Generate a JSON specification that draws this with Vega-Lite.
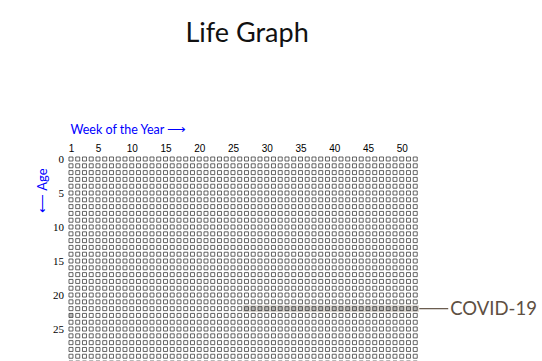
{
"$schema": "https://vega.github.io/schema/vega-lite/v6.json",
"autosize": "none",
"width": 351,
"height": 205.4,
"padding": {"left": 67.6, "top": 155.6, "right": 123.4, "bottom": 0},
"background": "white",
"config": {"view": {"stroke": null}},
"title": {"text": "Life Graph", "font": "Lato", "fontSize": 27, "fontWeight": "normal", "color": "#111111", "anchor": "middle", "dx": 4, "offset": 75},
"datasets": {
"grid": [
{"a":0,"w":1},{"a":0,"w":2},{"a":0,"w":3},{"a":0,"w":4},{"a":0,"w":5},{"a":0,"w":6},{"a":0,"w":7},{"a":0,"w":8},{"a":0,"w":9},{"a":0,"w":10},{"a":0,"w":11},{"a":0,"w":12},{"a":0,"w":13},{"a":0,"w":14},{"a":0,"w":15},{"a":0,"w":16},{"a":0,"w":17},{"a":0,"w":18},{"a":0,"w":19},{"a":0,"w":20},{"a":0,"w":21},{"a":0,"w":22},{"a":0,"w":23},{"a":0,"w":24},{"a":0,"w":25},{"a":0,"w":26},{"a":0,"w":27},{"a":0,"w":28},{"a":0,"w":29},{"a":0,"w":30},{"a":0,"w":31},{"a":0,"w":32},{"a":0,"w":33},{"a":0,"w":34},{"a":0,"w":35},{"a":0,"w":36},{"a":0,"w":37},{"a":0,"w":38},{"a":0,"w":39},{"a":0,"w":40},{"a":0,"w":41},{"a":0,"w":42},{"a":0,"w":43},{"a":0,"w":44},{"a":0,"w":45},{"a":0,"w":46},{"a":0,"w":47},{"a":0,"w":48},{"a":0,"w":49},{"a":0,"w":50},{"a":0,"w":51},{"a":0,"w":52},
{"a":1,"w":1},{"a":1,"w":2},{"a":1,"w":3},{"a":1,"w":4},{"a":1,"w":5},{"a":1,"w":6},{"a":1,"w":7},{"a":1,"w":8},{"a":1,"w":9},{"a":1,"w":10},{"a":1,"w":11},{"a":1,"w":12},{"a":1,"w":13},{"a":1,"w":14},{"a":1,"w":15},{"a":1,"w":16},{"a":1,"w":17},{"a":1,"w":18},{"a":1,"w":19},{"a":1,"w":20},{"a":1,"w":21},{"a":1,"w":22},{"a":1,"w":23},{"a":1,"w":24},{"a":1,"w":25},{"a":1,"w":26},{"a":1,"w":27},{"a":1,"w":28},{"a":1,"w":29},{"a":1,"w":30},{"a":1,"w":31},{"a":1,"w":32},{"a":1,"w":33},{"a":1,"w":34},{"a":1,"w":35},{"a":1,"w":36},{"a":1,"w":37},{"a":1,"w":38},{"a":1,"w":39},{"a":1,"w":40},{"a":1,"w":41},{"a":1,"w":42},{"a":1,"w":43},{"a":1,"w":44},{"a":1,"w":45},{"a":1,"w":46},{"a":1,"w":47},{"a":1,"w":48},{"a":1,"w":49},{"a":1,"w":50},{"a":1,"w":51},{"a":1,"w":52},
{"a":2,"w":1},{"a":2,"w":2},{"a":2,"w":3},{"a":2,"w":4},{"a":2,"w":5},{"a":2,"w":6},{"a":2,"w":7},{"a":2,"w":8},{"a":2,"w":9},{"a":2,"w":10},{"a":2,"w":11},{"a":2,"w":12},{"a":2,"w":13},{"a":2,"w":14},{"a":2,"w":15},{"a":2,"w":16},{"a":2,"w":17},{"a":2,"w":18},{"a":2,"w":19},{"a":2,"w":20},{"a":2,"w":21},{"a":2,"w":22},{"a":2,"w":23},{"a":2,"w":24},{"a":2,"w":25},{"a":2,"w":26},{"a":2,"w":27},{"a":2,"w":28},{"a":2,"w":29},{"a":2,"w":30},{"a":2,"w":31},{"a":2,"w":32},{"a":2,"w":33},{"a":2,"w":34},{"a":2,"w":35},{"a":2,"w":36},{"a":2,"w":37},{"a":2,"w":38},{"a":2,"w":39},{"a":2,"w":40},{"a":2,"w":41},{"a":2,"w":42},{"a":2,"w":43},{"a":2,"w":44},{"a":2,"w":45},{"a":2,"w":46},{"a":2,"w":47},{"a":2,"w":48},{"a":2,"w":49},{"a":2,"w":50},{"a":2,"w":51},{"a":2,"w":52},
{"a":3,"w":1},{"a":3,"w":2},{"a":3,"w":3},{"a":3,"w":4},{"a":3,"w":5},{"a":3,"w":6},{"a":3,"w":7},{"a":3,"w":8},{"a":3,"w":9},{"a":3,"w":10},{"a":3,"w":11},{"a":3,"w":12},{"a":3,"w":13},{"a":3,"w":14},{"a":3,"w":15},{"a":3,"w":16},{"a":3,"w":17},{"a":3,"w":18},{"a":3,"w":19},{"a":3,"w":20},{"a":3,"w":21},{"a":3,"w":22},{"a":3,"w":23},{"a":3,"w":24},{"a":3,"w":25},{"a":3,"w":26},{"a":3,"w":27},{"a":3,"w":28},{"a":3,"w":29},{"a":3,"w":30},{"a":3,"w":31},{"a":3,"w":32},{"a":3,"w":33},{"a":3,"w":34},{"a":3,"w":35},{"a":3,"w":36},{"a":3,"w":37},{"a":3,"w":38},{"a":3,"w":39},{"a":3,"w":40},{"a":3,"w":41},{"a":3,"w":42},{"a":3,"w":43},{"a":3,"w":44},{"a":3,"w":45},{"a":3,"w":46},{"a":3,"w":47},{"a":3,"w":48},{"a":3,"w":49},{"a":3,"w":50},{"a":3,"w":51},{"a":3,"w":52},
{"a":4,"w":1},{"a":4,"w":2},{"a":4,"w":3},{"a":4,"w":4},{"a":4,"w":5},{"a":4,"w":6},{"a":4,"w":7},{"a":4,"w":8},{"a":4,"w":9},{"a":4,"w":10},{"a":4,"w":11},{"a":4,"w":12},{"a":4,"w":13},{"a":4,"w":14},{"a":4,"w":15},{"a":4,"w":16},{"a":4,"w":17},{"a":4,"w":18},{"a":4,"w":19},{"a":4,"w":20},{"a":4,"w":21},{"a":4,"w":22},{"a":4,"w":23},{"a":4,"w":24},{"a":4,"w":25},{"a":4,"w":26},{"a":4,"w":27},{"a":4,"w":28},{"a":4,"w":29},{"a":4,"w":30},{"a":4,"w":31},{"a":4,"w":32},{"a":4,"w":33},{"a":4,"w":34},{"a":4,"w":35},{"a":4,"w":36},{"a":4,"w":37},{"a":4,"w":38},{"a":4,"w":39},{"a":4,"w":40},{"a":4,"w":41},{"a":4,"w":42},{"a":4,"w":43},{"a":4,"w":44},{"a":4,"w":45},{"a":4,"w":46},{"a":4,"w":47},{"a":4,"w":48},{"a":4,"w":49},{"a":4,"w":50},{"a":4,"w":51},{"a":4,"w":52},
{"a":5,"w":1},{"a":5,"w":2},{"a":5,"w":3},{"a":5,"w":4},{"a":5,"w":5},{"a":5,"w":6},{"a":5,"w":7},{"a":5,"w":8},{"a":5,"w":9},{"a":5,"w":10},{"a":5,"w":11},{"a":5,"w":12},{"a":5,"w":13},{"a":5,"w":14},{"a":5,"w":15},{"a":5,"w":16},{"a":5,"w":17},{"a":5,"w":18},{"a":5,"w":19},{"a":5,"w":20},{"a":5,"w":21},{"a":5,"w":22},{"a":5,"w":23},{"a":5,"w":24},{"a":5,"w":25},{"a":5,"w":26},{"a":5,"w":27},{"a":5,"w":28},{"a":5,"w":29},{"a":5,"w":30},{"a":5,"w":31},{"a":5,"w":32},{"a":5,"w":33},{"a":5,"w":34},{"a":5,"w":35},{"a":5,"w":36},{"a":5,"w":37},{"a":5,"w":38},{"a":5,"w":39},{"a":5,"w":40},{"a":5,"w":41},{"a":5,"w":42},{"a":5,"w":43},{"a":5,"w":44},{"a":5,"w":45},{"a":5,"w":46},{"a":5,"w":47},{"a":5,"w":48},{"a":5,"w":49},{"a":5,"w":50},{"a":5,"w":51},{"a":5,"w":52},
{"a":6,"w":1},{"a":6,"w":2},{"a":6,"w":3},{"a":6,"w":4},{"a":6,"w":5},{"a":6,"w":6},{"a":6,"w":7},{"a":6,"w":8},{"a":6,"w":9},{"a":6,"w":10},{"a":6,"w":11},{"a":6,"w":12},{"a":6,"w":13},{"a":6,"w":14},{"a":6,"w":15},{"a":6,"w":16},{"a":6,"w":17},{"a":6,"w":18},{"a":6,"w":19},{"a":6,"w":20},{"a":6,"w":21},{"a":6,"w":22},{"a":6,"w":23},{"a":6,"w":24},{"a":6,"w":25},{"a":6,"w":26},{"a":6,"w":27},{"a":6,"w":28},{"a":6,"w":29},{"a":6,"w":30},{"a":6,"w":31},{"a":6,"w":32},{"a":6,"w":33},{"a":6,"w":34},{"a":6,"w":35},{"a":6,"w":36},{"a":6,"w":37},{"a":6,"w":38},{"a":6,"w":39},{"a":6,"w":40},{"a":6,"w":41},{"a":6,"w":42},{"a":6,"w":43},{"a":6,"w":44},{"a":6,"w":45},{"a":6,"w":46},{"a":6,"w":47},{"a":6,"w":48},{"a":6,"w":49},{"a":6,"w":50},{"a":6,"w":51},{"a":6,"w":52},
{"a":7,"w":1},{"a":7,"w":2},{"a":7,"w":3},{"a":7,"w":4},{"a":7,"w":5},{"a":7,"w":6},{"a":7,"w":7},{"a":7,"w":8},{"a":7,"w":9},{"a":7,"w":10},{"a":7,"w":11},{"a":7,"w":12},{"a":7,"w":13},{"a":7,"w":14},{"a":7,"w":15},{"a":7,"w":16},{"a":7,"w":17},{"a":7,"w":18},{"a":7,"w":19},{"a":7,"w":20},{"a":7,"w":21},{"a":7,"w":22},{"a":7,"w":23},{"a":7,"w":24},{"a":7,"w":25},{"a":7,"w":26},{"a":7,"w":27},{"a":7,"w":28},{"a":7,"w":29},{"a":7,"w":30},{"a":7,"w":31},{"a":7,"w":32},{"a":7,"w":33},{"a":7,"w":34},{"a":7,"w":35},{"a":7,"w":36},{"a":7,"w":37},{"a":7,"w":38},{"a":7,"w":39},{"a":7,"w":40},{"a":7,"w":41},{"a":7,"w":42},{"a":7,"w":43},{"a":7,"w":44},{"a":7,"w":45},{"a":7,"w":46},{"a":7,"w":47},{"a":7,"w":48},{"a":7,"w":49},{"a":7,"w":50},{"a":7,"w":51},{"a":7,"w":52},
{"a":8,"w":1},{"a":8,"w":2},{"a":8,"w":3},{"a":8,"w":4},{"a":8,"w":5},{"a":8,"w":6},{"a":8,"w":7},{"a":8,"w":8},{"a":8,"w":9},{"a":8,"w":10},{"a":8,"w":11},{"a":8,"w":12},{"a":8,"w":13},{"a":8,"w":14},{"a":8,"w":15},{"a":8,"w":16},{"a":8,"w":17},{"a":8,"w":18},{"a":8,"w":19},{"a":8,"w":20},{"a":8,"w":21},{"a":8,"w":22},{"a":8,"w":23},{"a":8,"w":24},{"a":8,"w":25},{"a":8,"w":26},{"a":8,"w":27},{"a":8,"w":28},{"a":8,"w":29},{"a":8,"w":30},{"a":8,"w":31},{"a":8,"w":32},{"a":8,"w":33},{"a":8,"w":34},{"a":8,"w":35},{"a":8,"w":36},{"a":8,"w":37},{"a":8,"w":38},{"a":8,"w":39},{"a":8,"w":40},{"a":8,"w":41},{"a":8,"w":42},{"a":8,"w":43},{"a":8,"w":44},{"a":8,"w":45},{"a":8,"w":46},{"a":8,"w":47},{"a":8,"w":48},{"a":8,"w":49},{"a":8,"w":50},{"a":8,"w":51},{"a":8,"w":52},
{"a":9,"w":1},{"a":9,"w":2},{"a":9,"w":3},{"a":9,"w":4},{"a":9,"w":5},{"a":9,"w":6},{"a":9,"w":7},{"a":9,"w":8},{"a":9,"w":9},{"a":9,"w":10},{"a":9,"w":11},{"a":9,"w":12},{"a":9,"w":13},{"a":9,"w":14},{"a":9,"w":15},{"a":9,"w":16},{"a":9,"w":17},{"a":9,"w":18},{"a":9,"w":19},{"a":9,"w":20},{"a":9,"w":21},{"a":9,"w":22},{"a":9,"w":23},{"a":9,"w":24},{"a":9,"w":25},{"a":9,"w":26},{"a":9,"w":27},{"a":9,"w":28},{"a":9,"w":29},{"a":9,"w":30},{"a":9,"w":31},{"a":9,"w":32},{"a":9,"w":33},{"a":9,"w":34},{"a":9,"w":35},{"a":9,"w":36},{"a":9,"w":37},{"a":9,"w":38},{"a":9,"w":39},{"a":9,"w":40},{"a":9,"w":41},{"a":9,"w":42},{"a":9,"w":43},{"a":9,"w":44},{"a":9,"w":45},{"a":9,"w":46},{"a":9,"w":47},{"a":9,"w":48},{"a":9,"w":49},{"a":9,"w":50},{"a":9,"w":51},{"a":9,"w":52},
{"a":10,"w":1},{"a":10,"w":2},{"a":10,"w":3},{"a":10,"w":4},{"a":10,"w":5},{"a":10,"w":6},{"a":10,"w":7},{"a":10,"w":8},{"a":10,"w":9},{"a":10,"w":10},{"a":10,"w":11},{"a":10,"w":12},{"a":10,"w":13},{"a":10,"w":14},{"a":10,"w":15},{"a":10,"w":16},{"a":10,"w":17},{"a":10,"w":18},{"a":10,"w":19},{"a":10,"w":20},{"a":10,"w":21},{"a":10,"w":22},{"a":10,"w":23},{"a":10,"w":24},{"a":10,"w":25},{"a":10,"w":26},{"a":10,"w":27},{"a":10,"w":28},{"a":10,"w":29},{"a":10,"w":30},{"a":10,"w":31},{"a":10,"w":32},{"a":10,"w":33},{"a":10,"w":34},{"a":10,"w":35},{"a":10,"w":36},{"a":10,"w":37},{"a":10,"w":38},{"a":10,"w":39},{"a":10,"w":40},{"a":10,"w":41},{"a":10,"w":42},{"a":10,"w":43},{"a":10,"w":44},{"a":10,"w":45},{"a":10,"w":46},{"a":10,"w":47},{"a":10,"w":48},{"a":10,"w":49},{"a":10,"w":50},{"a":10,"w":51},{"a":10,"w":52},
{"a":11,"w":1},{"a":11,"w":2},{"a":11,"w":3},{"a":11,"w":4},{"a":11,"w":5},{"a":11,"w":6},{"a":11,"w":7},{"a":11,"w":8},{"a":11,"w":9},{"a":11,"w":10},{"a":11,"w":11},{"a":11,"w":12},{"a":11,"w":13},{"a":11,"w":14},{"a":11,"w":15},{"a":11,"w":16},{"a":11,"w":17},{"a":11,"w":18},{"a":11,"w":19},{"a":11,"w":20},{"a":11,"w":21},{"a":11,"w":22},{"a":11,"w":23},{"a":11,"w":24},{"a":11,"w":25},{"a":11,"w":26},{"a":11,"w":27},{"a":11,"w":28},{"a":11,"w":29},{"a":11,"w":30},{"a":11,"w":31},{"a":11,"w":32},{"a":11,"w":33},{"a":11,"w":34},{"a":11,"w":35},{"a":11,"w":36},{"a":11,"w":37},{"a":11,"w":38},{"a":11,"w":39},{"a":11,"w":40},{"a":11,"w":41},{"a":11,"w":42},{"a":11,"w":43},{"a":11,"w":44},{"a":11,"w":45},{"a":11,"w":46},{"a":11,"w":47},{"a":11,"w":48},{"a":11,"w":49},{"a":11,"w":50},{"a":11,"w":51},{"a":11,"w":52},
{"a":12,"w":1},{"a":12,"w":2},{"a":12,"w":3},{"a":12,"w":4},{"a":12,"w":5},{"a":12,"w":6},{"a":12,"w":7},{"a":12,"w":8},{"a":12,"w":9},{"a":12,"w":10},{"a":12,"w":11},{"a":12,"w":12},{"a":12,"w":13},{"a":12,"w":14},{"a":12,"w":15},{"a":12,"w":16},{"a":12,"w":17},{"a":12,"w":18},{"a":12,"w":19},{"a":12,"w":20},{"a":12,"w":21},{"a":12,"w":22},{"a":12,"w":23},{"a":12,"w":24},{"a":12,"w":25},{"a":12,"w":26},{"a":12,"w":27},{"a":12,"w":28},{"a":12,"w":29},{"a":12,"w":30},{"a":12,"w":31},{"a":12,"w":32},{"a":12,"w":33},{"a":12,"w":34},{"a":12,"w":35},{"a":12,"w":36},{"a":12,"w":37},{"a":12,"w":38},{"a":12,"w":39},{"a":12,"w":40},{"a":12,"w":41},{"a":12,"w":42},{"a":12,"w":43},{"a":12,"w":44},{"a":12,"w":45},{"a":12,"w":46},{"a":12,"w":47},{"a":12,"w":48},{"a":12,"w":49},{"a":12,"w":50},{"a":12,"w":51},{"a":12,"w":52},
{"a":13,"w":1},{"a":13,"w":2},{"a":13,"w":3},{"a":13,"w":4},{"a":13,"w":5},{"a":13,"w":6},{"a":13,"w":7},{"a":13,"w":8},{"a":13,"w":9},{"a":13,"w":10},{"a":13,"w":11},{"a":13,"w":12},{"a":13,"w":13},{"a":13,"w":14},{"a":13,"w":15},{"a":13,"w":16},{"a":13,"w":17},{"a":13,"w":18},{"a":13,"w":19},{"a":13,"w":20},{"a":13,"w":21},{"a":13,"w":22},{"a":13,"w":23},{"a":13,"w":24},{"a":13,"w":25},{"a":13,"w":26},{"a":13,"w":27},{"a":13,"w":28},{"a":13,"w":29},{"a":13,"w":30},{"a":13,"w":31},{"a":13,"w":32},{"a":13,"w":33},{"a":13,"w":34},{"a":13,"w":35},{"a":13,"w":36},{"a":13,"w":37},{"a":13,"w":38},{"a":13,"w":39},{"a":13,"w":40},{"a":13,"w":41},{"a":13,"w":42},{"a":13,"w":43},{"a":13,"w":44},{"a":13,"w":45},{"a":13,"w":46},{"a":13,"w":47},{"a":13,"w":48},{"a":13,"w":49},{"a":13,"w":50},{"a":13,"w":51},{"a":13,"w":52},
{"a":14,"w":1},{"a":14,"w":2},{"a":14,"w":3},{"a":14,"w":4},{"a":14,"w":5},{"a":14,"w":6},{"a":14,"w":7},{"a":14,"w":8},{"a":14,"w":9},{"a":14,"w":10},{"a":14,"w":11},{"a":14,"w":12},{"a":14,"w":13},{"a":14,"w":14},{"a":14,"w":15},{"a":14,"w":16},{"a":14,"w":17},{"a":14,"w":18},{"a":14,"w":19},{"a":14,"w":20},{"a":14,"w":21},{"a":14,"w":22},{"a":14,"w":23},{"a":14,"w":24},{"a":14,"w":25},{"a":14,"w":26},{"a":14,"w":27},{"a":14,"w":28},{"a":14,"w":29},{"a":14,"w":30},{"a":14,"w":31},{"a":14,"w":32},{"a":14,"w":33},{"a":14,"w":34},{"a":14,"w":35},{"a":14,"w":36},{"a":14,"w":37},{"a":14,"w":38},{"a":14,"w":39},{"a":14,"w":40},{"a":14,"w":41},{"a":14,"w":42},{"a":14,"w":43},{"a":14,"w":44},{"a":14,"w":45},{"a":14,"w":46},{"a":14,"w":47},{"a":14,"w":48},{"a":14,"w":49},{"a":14,"w":50},{"a":14,"w":51},{"a":14,"w":52},
{"a":15,"w":1},{"a":15,"w":2},{"a":15,"w":3},{"a":15,"w":4},{"a":15,"w":5},{"a":15,"w":6},{"a":15,"w":7},{"a":15,"w":8},{"a":15,"w":9},{"a":15,"w":10},{"a":15,"w":11},{"a":15,"w":12},{"a":15,"w":13},{"a":15,"w":14},{"a":15,"w":15},{"a":15,"w":16},{"a":15,"w":17},{"a":15,"w":18},{"a":15,"w":19},{"a":15,"w":20},{"a":15,"w":21},{"a":15,"w":22},{"a":15,"w":23},{"a":15,"w":24},{"a":15,"w":25},{"a":15,"w":26},{"a":15,"w":27},{"a":15,"w":28},{"a":15,"w":29},{"a":15,"w":30},{"a":15,"w":31},{"a":15,"w":32},{"a":15,"w":33},{"a":15,"w":34},{"a":15,"w":35},{"a":15,"w":36},{"a":15,"w":37},{"a":15,"w":38},{"a":15,"w":39},{"a":15,"w":40},{"a":15,"w":41},{"a":15,"w":42},{"a":15,"w":43},{"a":15,"w":44},{"a":15,"w":45},{"a":15,"w":46},{"a":15,"w":47},{"a":15,"w":48},{"a":15,"w":49},{"a":15,"w":50},{"a":15,"w":51},{"a":15,"w":52},
{"a":16,"w":1},{"a":16,"w":2},{"a":16,"w":3},{"a":16,"w":4},{"a":16,"w":5},{"a":16,"w":6},{"a":16,"w":7},{"a":16,"w":8},{"a":16,"w":9},{"a":16,"w":10},{"a":16,"w":11},{"a":16,"w":12},{"a":16,"w":13},{"a":16,"w":14},{"a":16,"w":15},{"a":16,"w":16},{"a":16,"w":17},{"a":16,"w":18},{"a":16,"w":19},{"a":16,"w":20},{"a":16,"w":21},{"a":16,"w":22},{"a":16,"w":23},{"a":16,"w":24},{"a":16,"w":25},{"a":16,"w":26},{"a":16,"w":27},{"a":16,"w":28},{"a":16,"w":29},{"a":16,"w":30},{"a":16,"w":31},{"a":16,"w":32},{"a":16,"w":33},{"a":16,"w":34},{"a":16,"w":35},{"a":16,"w":36},{"a":16,"w":37},{"a":16,"w":38},{"a":16,"w":39},{"a":16,"w":40},{"a":16,"w":41},{"a":16,"w":42},{"a":16,"w":43},{"a":16,"w":44},{"a":16,"w":45},{"a":16,"w":46},{"a":16,"w":47},{"a":16,"w":48},{"a":16,"w":49},{"a":16,"w":50},{"a":16,"w":51},{"a":16,"w":52},
{"a":17,"w":1},{"a":17,"w":2},{"a":17,"w":3},{"a":17,"w":4},{"a":17,"w":5},{"a":17,"w":6},{"a":17,"w":7},{"a":17,"w":8},{"a":17,"w":9},{"a":17,"w":10},{"a":17,"w":11},{"a":17,"w":12},{"a":17,"w":13},{"a":17,"w":14},{"a":17,"w":15},{"a":17,"w":16},{"a":17,"w":17},{"a":17,"w":18},{"a":17,"w":19},{"a":17,"w":20},{"a":17,"w":21},{"a":17,"w":22},{"a":17,"w":23},{"a":17,"w":24},{"a":17,"w":25},{"a":17,"w":26},{"a":17,"w":27},{"a":17,"w":28},{"a":17,"w":29},{"a":17,"w":30},{"a":17,"w":31},{"a":17,"w":32},{"a":17,"w":33},{"a":17,"w":34},{"a":17,"w":35},{"a":17,"w":36},{"a":17,"w":37},{"a":17,"w":38},{"a":17,"w":39},{"a":17,"w":40},{"a":17,"w":41},{"a":17,"w":42},{"a":17,"w":43},{"a":17,"w":44},{"a":17,"w":45},{"a":17,"w":46},{"a":17,"w":47},{"a":17,"w":48},{"a":17,"w":49},{"a":17,"w":50},{"a":17,"w":51},{"a":17,"w":52},
{"a":18,"w":1},{"a":18,"w":2},{"a":18,"w":3},{"a":18,"w":4},{"a":18,"w":5},{"a":18,"w":6},{"a":18,"w":7},{"a":18,"w":8},{"a":18,"w":9},{"a":18,"w":10},{"a":18,"w":11},{"a":18,"w":12},{"a":18,"w":13},{"a":18,"w":14},{"a":18,"w":15},{"a":18,"w":16},{"a":18,"w":17},{"a":18,"w":18},{"a":18,"w":19},{"a":18,"w":20},{"a":18,"w":21},{"a":18,"w":22},{"a":18,"w":23},{"a":18,"w":24},{"a":18,"w":25},{"a":18,"w":26},{"a":18,"w":27},{"a":18,"w":28},{"a":18,"w":29},{"a":18,"w":30},{"a":18,"w":31},{"a":18,"w":32},{"a":18,"w":33},{"a":18,"w":34},{"a":18,"w":35},{"a":18,"w":36},{"a":18,"w":37},{"a":18,"w":38},{"a":18,"w":39},{"a":18,"w":40},{"a":18,"w":41},{"a":18,"w":42},{"a":18,"w":43},{"a":18,"w":44},{"a":18,"w":45},{"a":18,"w":46},{"a":18,"w":47},{"a":18,"w":48},{"a":18,"w":49},{"a":18,"w":50},{"a":18,"w":51},{"a":18,"w":52},
{"a":19,"w":1},{"a":19,"w":2},{"a":19,"w":3},{"a":19,"w":4},{"a":19,"w":5},{"a":19,"w":6},{"a":19,"w":7},{"a":19,"w":8},{"a":19,"w":9},{"a":19,"w":10},{"a":19,"w":11},{"a":19,"w":12},{"a":19,"w":13},{"a":19,"w":14},{"a":19,"w":15},{"a":19,"w":16},{"a":19,"w":17},{"a":19,"w":18},{"a":19,"w":19},{"a":19,"w":20},{"a":19,"w":21},{"a":19,"w":22},{"a":19,"w":23},{"a":19,"w":24},{"a":19,"w":25},{"a":19,"w":26},{"a":19,"w":27},{"a":19,"w":28},{"a":19,"w":29},{"a":19,"w":30},{"a":19,"w":31},{"a":19,"w":32},{"a":19,"w":33},{"a":19,"w":34},{"a":19,"w":35},{"a":19,"w":36},{"a":19,"w":37},{"a":19,"w":38},{"a":19,"w":39},{"a":19,"w":40},{"a":19,"w":41},{"a":19,"w":42},{"a":19,"w":43},{"a":19,"w":44},{"a":19,"w":45},{"a":19,"w":46},{"a":19,"w":47},{"a":19,"w":48},{"a":19,"w":49},{"a":19,"w":50},{"a":19,"w":51},{"a":19,"w":52},
{"a":20,"w":1},{"a":20,"w":2},{"a":20,"w":3},{"a":20,"w":4},{"a":20,"w":5},{"a":20,"w":6},{"a":20,"w":7},{"a":20,"w":8},{"a":20,"w":9},{"a":20,"w":10},{"a":20,"w":11},{"a":20,"w":12},{"a":20,"w":13},{"a":20,"w":14},{"a":20,"w":15},{"a":20,"w":16},{"a":20,"w":17},{"a":20,"w":18},{"a":20,"w":19},{"a":20,"w":20},{"a":20,"w":21},{"a":20,"w":22},{"a":20,"w":23},{"a":20,"w":24},{"a":20,"w":25},{"a":20,"w":26},{"a":20,"w":27},{"a":20,"w":28},{"a":20,"w":29},{"a":20,"w":30},{"a":20,"w":31},{"a":20,"w":32},{"a":20,"w":33},{"a":20,"w":34},{"a":20,"w":35},{"a":20,"w":36},{"a":20,"w":37},{"a":20,"w":38},{"a":20,"w":39},{"a":20,"w":40},{"a":20,"w":41},{"a":20,"w":42},{"a":20,"w":43},{"a":20,"w":44},{"a":20,"w":45},{"a":20,"w":46},{"a":20,"w":47},{"a":20,"w":48},{"a":20,"w":49},{"a":20,"w":50},{"a":20,"w":51},{"a":20,"w":52},
{"a":21,"w":1},{"a":21,"w":2},{"a":21,"w":3},{"a":21,"w":4},{"a":21,"w":5},{"a":21,"w":6},{"a":21,"w":7},{"a":21,"w":8},{"a":21,"w":9},{"a":21,"w":10},{"a":21,"w":11},{"a":21,"w":12},{"a":21,"w":13},{"a":21,"w":14},{"a":21,"w":15},{"a":21,"w":16},{"a":21,"w":17},{"a":21,"w":18},{"a":21,"w":19},{"a":21,"w":20},{"a":21,"w":21},{"a":21,"w":22},{"a":21,"w":23},{"a":21,"w":24},{"a":21,"w":25},{"a":21,"w":26},{"a":21,"w":27},{"a":21,"w":28},{"a":21,"w":29},{"a":21,"w":30},{"a":21,"w":31},{"a":21,"w":32},{"a":21,"w":33},{"a":21,"w":34},{"a":21,"w":35},{"a":21,"w":36},{"a":21,"w":37},{"a":21,"w":38},{"a":21,"w":39},{"a":21,"w":40},{"a":21,"w":41},{"a":21,"w":42},{"a":21,"w":43},{"a":21,"w":44},{"a":21,"w":45},{"a":21,"w":46},{"a":21,"w":47},{"a":21,"w":48},{"a":21,"w":49},{"a":21,"w":50},{"a":21,"w":51},{"a":21,"w":52},
{"a":22,"w":1},{"a":22,"w":2},{"a":22,"w":3},{"a":22,"w":4},{"a":22,"w":5},{"a":22,"w":6},{"a":22,"w":7},{"a":22,"w":8},{"a":22,"w":9},{"a":22,"w":10},{"a":22,"w":11},{"a":22,"w":12},{"a":22,"w":13},{"a":22,"w":14},{"a":22,"w":15},{"a":22,"w":16},{"a":22,"w":17},{"a":22,"w":18},{"a":22,"w":19},{"a":22,"w":20},{"a":22,"w":21},{"a":22,"w":22},{"a":22,"w":23},{"a":22,"w":24},{"a":22,"w":25},{"a":22,"w":26},{"a":22,"w":27},{"a":22,"w":28},{"a":22,"w":29},{"a":22,"w":30},{"a":22,"w":31},{"a":22,"w":32},{"a":22,"w":33},{"a":22,"w":34},{"a":22,"w":35},{"a":22,"w":36},{"a":22,"w":37},{"a":22,"w":38},{"a":22,"w":39},{"a":22,"w":40},{"a":22,"w":41},{"a":22,"w":42},{"a":22,"w":43},{"a":22,"w":44},{"a":22,"w":45},{"a":22,"w":46},{"a":22,"w":47},{"a":22,"w":48},{"a":22,"w":49},{"a":22,"w":50},{"a":22,"w":51},{"a":22,"w":52},
{"a":23,"w":1},{"a":23,"w":2},{"a":23,"w":3},{"a":23,"w":4},{"a":23,"w":5},{"a":23,"w":6},{"a":23,"w":7},{"a":23,"w":8},{"a":23,"w":9},{"a":23,"w":10},{"a":23,"w":11},{"a":23,"w":12},{"a":23,"w":13},{"a":23,"w":14},{"a":23,"w":15},{"a":23,"w":16},{"a":23,"w":17},{"a":23,"w":18},{"a":23,"w":19},{"a":23,"w":20},{"a":23,"w":21},{"a":23,"w":22},{"a":23,"w":23},{"a":23,"w":24},{"a":23,"w":25},{"a":23,"w":26},{"a":23,"w":27},{"a":23,"w":28},{"a":23,"w":29},{"a":23,"w":30},{"a":23,"w":31},{"a":23,"w":32},{"a":23,"w":33},{"a":23,"w":34},{"a":23,"w":35},{"a":23,"w":36},{"a":23,"w":37},{"a":23,"w":38},{"a":23,"w":39},{"a":23,"w":40},{"a":23,"w":41},{"a":23,"w":42},{"a":23,"w":43},{"a":23,"w":44},{"a":23,"w":45},{"a":23,"w":46},{"a":23,"w":47},{"a":23,"w":48},{"a":23,"w":49},{"a":23,"w":50},{"a":23,"w":51},{"a":23,"w":52},
{"a":24,"w":1},{"a":24,"w":2},{"a":24,"w":3},{"a":24,"w":4},{"a":24,"w":5},{"a":24,"w":6},{"a":24,"w":7},{"a":24,"w":8},{"a":24,"w":9},{"a":24,"w":10},{"a":24,"w":11},{"a":24,"w":12},{"a":24,"w":13},{"a":24,"w":14},{"a":24,"w":15},{"a":24,"w":16},{"a":24,"w":17},{"a":24,"w":18},{"a":24,"w":19},{"a":24,"w":20},{"a":24,"w":21},{"a":24,"w":22},{"a":24,"w":23},{"a":24,"w":24},{"a":24,"w":25},{"a":24,"w":26},{"a":24,"w":27},{"a":24,"w":28},{"a":24,"w":29},{"a":24,"w":30},{"a":24,"w":31},{"a":24,"w":32},{"a":24,"w":33},{"a":24,"w":34},{"a":24,"w":35},{"a":24,"w":36},{"a":24,"w":37},{"a":24,"w":38},{"a":24,"w":39},{"a":24,"w":40},{"a":24,"w":41},{"a":24,"w":42},{"a":24,"w":43},{"a":24,"w":44},{"a":24,"w":45},{"a":24,"w":46},{"a":24,"w":47},{"a":24,"w":48},{"a":24,"w":49},{"a":24,"w":50},{"a":24,"w":51},{"a":24,"w":52},
{"a":25,"w":1},{"a":25,"w":2},{"a":25,"w":3},{"a":25,"w":4},{"a":25,"w":5},{"a":25,"w":6},{"a":25,"w":7},{"a":25,"w":8},{"a":25,"w":9},{"a":25,"w":10},{"a":25,"w":11},{"a":25,"w":12},{"a":25,"w":13},{"a":25,"w":14},{"a":25,"w":15},{"a":25,"w":16},{"a":25,"w":17},{"a":25,"w":18},{"a":25,"w":19},{"a":25,"w":20},{"a":25,"w":21},{"a":25,"w":22},{"a":25,"w":23},{"a":25,"w":24},{"a":25,"w":25},{"a":25,"w":26},{"a":25,"w":27},{"a":25,"w":28},{"a":25,"w":29},{"a":25,"w":30},{"a":25,"w":31},{"a":25,"w":32},{"a":25,"w":33},{"a":25,"w":34},{"a":25,"w":35},{"a":25,"w":36},{"a":25,"w":37},{"a":25,"w":38},{"a":25,"w":39},{"a":25,"w":40},{"a":25,"w":41},{"a":25,"w":42},{"a":25,"w":43},{"a":25,"w":44},{"a":25,"w":45},{"a":25,"w":46},{"a":25,"w":47},{"a":25,"w":48},{"a":25,"w":49},{"a":25,"w":50},{"a":25,"w":51},{"a":25,"w":52},
{"a":26,"w":1},{"a":26,"w":2},{"a":26,"w":3},{"a":26,"w":4},{"a":26,"w":5},{"a":26,"w":6},{"a":26,"w":7},{"a":26,"w":8},{"a":26,"w":9},{"a":26,"w":10},{"a":26,"w":11},{"a":26,"w":12},{"a":26,"w":13},{"a":26,"w":14},{"a":26,"w":15},{"a":26,"w":16},{"a":26,"w":17},{"a":26,"w":18},{"a":26,"w":19},{"a":26,"w":20},{"a":26,"w":21},{"a":26,"w":22},{"a":26,"w":23},{"a":26,"w":24},{"a":26,"w":25},{"a":26,"w":26},{"a":26,"w":27},{"a":26,"w":28},{"a":26,"w":29},{"a":26,"w":30},{"a":26,"w":31},{"a":26,"w":32},{"a":26,"w":33},{"a":26,"w":34},{"a":26,"w":35},{"a":26,"w":36},{"a":26,"w":37},{"a":26,"w":38},{"a":26,"w":39},{"a":26,"w":40},{"a":26,"w":41},{"a":26,"w":42},{"a":26,"w":43},{"a":26,"w":44},{"a":26,"w":45},{"a":26,"w":46},{"a":26,"w":47},{"a":26,"w":48},{"a":26,"w":49},{"a":26,"w":50},{"a":26,"w":51},{"a":26,"w":52},
{"a":27,"w":1},{"a":27,"w":2},{"a":27,"w":3},{"a":27,"w":4},{"a":27,"w":5},{"a":27,"w":6},{"a":27,"w":7},{"a":27,"w":8},{"a":27,"w":9},{"a":27,"w":10},{"a":27,"w":11},{"a":27,"w":12},{"a":27,"w":13},{"a":27,"w":14},{"a":27,"w":15},{"a":27,"w":16},{"a":27,"w":17},{"a":27,"w":18},{"a":27,"w":19},{"a":27,"w":20},{"a":27,"w":21},{"a":27,"w":22},{"a":27,"w":23},{"a":27,"w":24},{"a":27,"w":25},{"a":27,"w":26},{"a":27,"w":27},{"a":27,"w":28},{"a":27,"w":29},{"a":27,"w":30},{"a":27,"w":31},{"a":27,"w":32},{"a":27,"w":33},{"a":27,"w":34},{"a":27,"w":35},{"a":27,"w":36},{"a":27,"w":37},{"a":27,"w":38},{"a":27,"w":39},{"a":27,"w":40},{"a":27,"w":41},{"a":27,"w":42},{"a":27,"w":43},{"a":27,"w":44},{"a":27,"w":45},{"a":27,"w":46},{"a":27,"w":47},{"a":27,"w":48},{"a":27,"w":49},{"a":27,"w":50},{"a":27,"w":51},{"a":27,"w":52},
{"a":28,"w":1},{"a":28,"w":2},{"a":28,"w":3},{"a":28,"w":4},{"a":28,"w":5},{"a":28,"w":6},{"a":28,"w":7},{"a":28,"w":8},{"a":28,"w":9},{"a":28,"w":10},{"a":28,"w":11},{"a":28,"w":12},{"a":28,"w":13},{"a":28,"w":14},{"a":28,"w":15},{"a":28,"w":16},{"a":28,"w":17},{"a":28,"w":18},{"a":28,"w":19},{"a":28,"w":20},{"a":28,"w":21},{"a":28,"w":22},{"a":28,"w":23},{"a":28,"w":24},{"a":28,"w":25},{"a":28,"w":26},{"a":28,"w":27},{"a":28,"w":28},{"a":28,"w":29},{"a":28,"w":30},{"a":28,"w":31},{"a":28,"w":32},{"a":28,"w":33},{"a":28,"w":34},{"a":28,"w":35},{"a":28,"w":36},{"a":28,"w":37},{"a":28,"w":38},{"a":28,"w":39},{"a":28,"w":40},{"a":28,"w":41},{"a":28,"w":42},{"a":28,"w":43},{"a":28,"w":44},{"a":28,"w":45},{"a":28,"w":46},{"a":28,"w":47},{"a":28,"w":48},{"a":28,"w":49},{"a":28,"w":50},{"a":28,"w":51},{"a":28,"w":52},
{"a":29,"w":1},{"a":29,"w":2},{"a":29,"w":3},{"a":29,"w":4},{"a":29,"w":5},{"a":29,"w":6},{"a":29,"w":7},{"a":29,"w":8},{"a":29,"w":9},{"a":29,"w":10},{"a":29,"w":11},{"a":29,"w":12},{"a":29,"w":13},{"a":29,"w":14},{"a":29,"w":15},{"a":29,"w":16},{"a":29,"w":17},{"a":29,"w":18},{"a":29,"w":19},{"a":29,"w":20},{"a":29,"w":21},{"a":29,"w":22},{"a":29,"w":23},{"a":29,"w":24},{"a":29,"w":25},{"a":29,"w":26},{"a":29,"w":27},{"a":29,"w":28},{"a":29,"w":29},{"a":29,"w":30},{"a":29,"w":31},{"a":29,"w":32},{"a":29,"w":33},{"a":29,"w":34},{"a":29,"w":35},{"a":29,"w":36},{"a":29,"w":37},{"a":29,"w":38},{"a":29,"w":39},{"a":29,"w":40},{"a":29,"w":41},{"a":29,"w":42},{"a":29,"w":43},{"a":29,"w":44},{"a":29,"w":45},{"a":29,"w":46},{"a":29,"w":47},{"a":29,"w":48},{"a":29,"w":49},{"a":29,"w":50},{"a":29,"w":51},{"a":29,"w":52},
{"a":30,"w":1},{"a":30,"w":2},{"a":30,"w":3},{"a":30,"w":4},{"a":30,"w":5},{"a":30,"w":6},{"a":30,"w":7},{"a":30,"w":8},{"a":30,"w":9},{"a":30,"w":10},{"a":30,"w":11},{"a":30,"w":12},{"a":30,"w":13},{"a":30,"w":14},{"a":30,"w":15},{"a":30,"w":16},{"a":30,"w":17},{"a":30,"w":18},{"a":30,"w":19},{"a":30,"w":20},{"a":30,"w":21},{"a":30,"w":22},{"a":30,"w":23},{"a":30,"w":24},{"a":30,"w":25},{"a":30,"w":26},{"a":30,"w":27},{"a":30,"w":28},{"a":30,"w":29},{"a":30,"w":30},{"a":30,"w":31},{"a":30,"w":32},{"a":30,"w":33},{"a":30,"w":34},{"a":30,"w":35},{"a":30,"w":36},{"a":30,"w":37},{"a":30,"w":38},{"a":30,"w":39},{"a":30,"w":40},{"a":30,"w":41},{"a":30,"w":42},{"a":30,"w":43},{"a":30,"w":44},{"a":30,"w":45},{"a":30,"w":46},{"a":30,"w":47},{"a":30,"w":48},{"a":30,"w":49},{"a":30,"w":50},{"a":30,"w":51},{"a":30,"w":52}
],
"filled": [
{"a":22,"w":27},{"a":22,"w":28},{"a":22,"w":29},{"a":22,"w":30},{"a":22,"w":31},{"a":22,"w":32},{"a":22,"w":33},{"a":22,"w":34},{"a":22,"w":35},{"a":22,"w":36},{"a":22,"w":37},{"a":22,"w":38},{"a":22,"w":39},{"a":22,"w":40},{"a":22,"w":41},{"a":22,"w":42},{"a":22,"w":43},{"a":22,"w":44},{"a":22,"w":45},{"a":22,"w":46},{"a":22,"w":47},{"a":22,"w":48},{"a":22,"w":49},{"a":22,"w":50},{"a":22,"w":51},{"a":22,"w":52},
{"a":23,"w":1}
],
"band": [{"a":22,"w":27,"w2":52}],
"label": [{"a":22,"w":52,"label":"COVID-19"}]
},
"encoding": {
"x": {"field": "w", "type": "quantitative", "scale": {"domain": [0.5, 52.5], "nice": false, "zero": false},
"axis": {"orient": "top", "values": [1,5,10,15,20,25,30,35,40,45,50], "domain": false, "ticks": false, "grid": false, "labelFont": "Liberation Sans", "labelFontSize": 10, "labelColor": "#000000", "labelPadding": 2.5, "labelAngle": 0, "labelFlush": false, "labelOverlap": false,
"title": "Week of the Year ⟶", "titleFont": "Lato", "titleFontSize": 12.5, "titleFontWeight": "normal", "titleColor": "#0000ff", "titleAnchor": "start", "titleAlign": "left", "titleX": 2.4, "titleY": -26.6, "titleBaseline": "middle"}},
"y": {"field": "a", "type": "quantitative", "scale": {"domain": [-0.5, 29.7], "nice": false, "zero": false, "reverse": true},
"axis": {"orient": "left", "values": [0,5,10,15,20,25,30], "domain": false, "ticks": false, "grid": false, "labelFont": "Liberation Serif", "labelFontSize": 11, "labelColor": "#000000", "labelPadding": 4, "labelFlush": false, "labelOverlap": false,
"title": "⟵ Age", "titleFont": "Lato", "titleFontSize": 13, "titleFontWeight": "normal", "titleColor": "#0000ff", "titleAngle": 270, "titleAlign": "center", "titleBaseline": "middle", "titleX": -25.6, "titleY": 34.4}}
},
"layer": [
{
"data": {"name": "band"},
"mark": {"type": "rect", "color": "#dcd6cf", "opacity": 0.9, "xOffset": -3.8, "x2Offset": 3.8, "yOffset": -3.3, "y2Offset": 3.3},
"encoding": {"x2": {"field": "w2"}, "y2": {"field": "a"}}
},
{
"data": {"name": "filled"},
"mark": {"type": "point", "shape": "square", "filled": true, "size": 16, "color": "#a8a8a8", "opacity": 0.8, "clip": true}
},
{
"data": {"name": "grid"},
"mark": {"type": "point", "shape": "square", "filled": false, "size": 16, "stroke": "#333333", "strokeWidth": 0.75, "opacity": 1, "clip": true}
},
{
"data": {"name": "label"},
"mark": {"type": "rule", "color": "#6b5d50", "strokeWidth": 1.3, "xOffset": 4, "x2Offset": 33},
"encoding": {"x2": {"field": "w"}}
},
{
"data": {"name": "label"},
"mark": {"type": "text", "align": "left", "baseline": "middle", "xOffset": 35, "font": "Lato", "fontSize": 18.5, "color": "#5e4f42"},
"encoding": {"text": {"field": "label"}}
}
]
}
